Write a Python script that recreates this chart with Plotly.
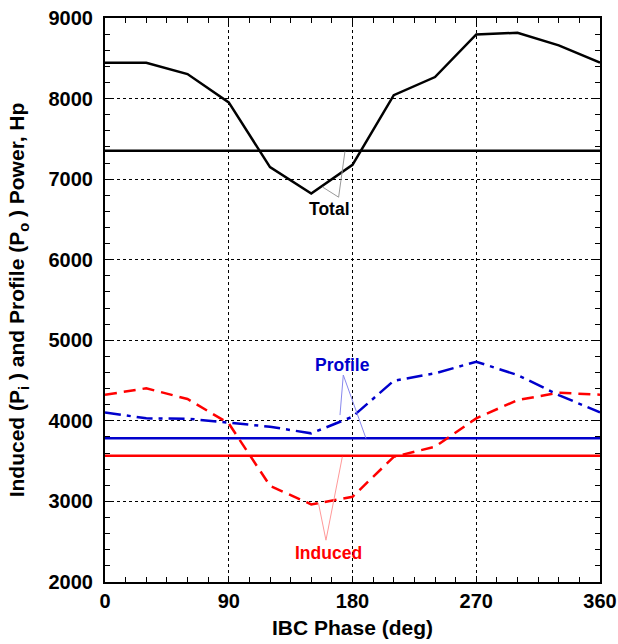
import plotly.graph_objects as go

# ---- data ----
phase = [0, 30, 60, 90, 120, 150, 180, 210, 240, 270, 300, 330, 360]
total_power = [8445, 8445, 8304, 7952, 7149, 6821, 7178, 8043, 8267, 8796, 8817, 8660, 8445]
induced_power = [4324, 4404, 4271, 3969, 3194, 2963, 3057, 3554, 3678, 4031, 4258, 4349, 4324]
profile_power = [4105, 4031, 4027, 3977, 3927, 3845, 4051, 4498, 4590, 4734, 4569, 4320, 4105]

total_mean = 7352
profile_mean = 3783
induced_mean = 3567

x_ticks = [0, 90, 180, 270, 360]
y_ticks = [2000, 3000, 4000, 5000, 6000, 7000, 8000, 9000]

# labels: text, label pos, vertex, two pointer ends
label_names = ["Total", "Profile", "Induced"]
label_x = [163.3, 173.0, 162.7]
label_y = [6625, 4699, 2360]
vertex_x = [169.9, 173.3, 160.7]
vertex_y = [6776, 4569, 2519]
end1_x = [158.3, 170.9, 155.2]
end1_y = [6901, 4072, 2983]
end2_x = [174.5, 189.8, 172.6]
end2_y = [7343, 3783, 3554]
label_colors = ["#000000", "#0000CC", "#FF0000"]
pointer_colors = ["#999999", "#8888EE", "#FF9999"]

BLUE = "#0000CC"
RED = "#FF0000"

fig = go.Figure()

xs = [phase[0], phase[-1]]
fig.add_trace(go.Scatter(x=xs, y=[total_mean, total_mean], mode="lines",
                         line=dict(color="black", width=2.5), showlegend=False))
fig.add_trace(go.Scatter(x=xs, y=[profile_mean, profile_mean], mode="lines",
                         line=dict(color=BLUE, width=2.5), showlegend=False))
fig.add_trace(go.Scatter(x=xs, y=[induced_mean, induced_mean], mode="lines",
                         line=dict(color=RED, width=2.5), showlegend=False))

fig.add_trace(go.Scatter(x=phase, y=total_power, mode="lines",
                         line=dict(color="black", width=2.5), showlegend=False))
fig.add_trace(go.Scatter(x=phase, y=induced_power, mode="lines",
                         line=dict(color=RED, width=2.5, dash="12px,7px"), showlegend=False))
fig.add_trace(go.Scatter(x=phase, y=profile_power, mode="lines",
                         line=dict(color=BLUE, width=2.5, dash="16px,6px,4px,6px"), showlegend=False))

# pointer lines
for i in range(len(label_names)):
    fig.add_trace(go.Scatter(x=[end1_x[i], vertex_x[i], end2_x[i]],
                             y=[end1_y[i], vertex_y[i], end2_y[i]],
                             mode="lines", line=dict(color=pointer_colors[i], width=1),
                             showlegend=False))
    fig.add_annotation(x=label_x[i], y=label_y[i], text=label_names[i], showarrow=False,
                       font=dict(family="Liberation Sans, Arial", size=17.5, color=label_colors[i], weight=700),
                       xanchor="center", yanchor="middle")

font_tick = dict(family="Liberation Sans, Arial", size=20, color="black", weight=700)
font_title = dict(family="Liberation Sans, Arial", size=21, color="black", weight=700)

fig.update_xaxes(range=[0, 360], tickvals=x_ticks, ticktext=[str(v) for v in x_ticks],
                 showgrid=True, gridcolor="black", griddash="dot", gridwidth=1,
                 ticks="inside", ticklen=6, tickwidth=1, tickcolor="black",
                 minor=dict(dtick=15, tick0=0, ticks="inside", ticklen=5, tickcolor="black", showgrid=False),
                 showline=True, linecolor="black", linewidth=2, mirror="allticks",
                 zeroline=False, tickfont=font_tick, automargin=False,
                 title=dict(text="IBC Phase (deg)", font=font_title, standoff=9))
fig.update_yaxes(range=[2000, 9000], tickvals=y_ticks, ticktext=[str(v) for v in y_ticks],
                 showgrid=True, gridcolor="black", griddash="dot", gridwidth=1,
                 ticks="inside", ticklen=6, tickwidth=1, tickcolor="black",
                 minor=dict(dtick=200, tick0=2000, ticks="inside", ticklen=5, tickcolor="black", showgrid=False),
                 showline=True, linecolor="black", linewidth=2, mirror="allticks",
                 zeroline=False, tickfont=font_tick, automargin=False, ticklabelstandoff=6,
                 title=dict(text="Induced (P<sub>i</sub> ) and Profile (P<sub>o</sub> ) Power, Hp",
                            font=font_title, standoff=18))

fig.update_layout(width=618, height=644, margin=dict(l=105, r=18, t=18, b=62),
                  plot_bgcolor="white", paper_bgcolor="white")

fig.write_html("out.html")
